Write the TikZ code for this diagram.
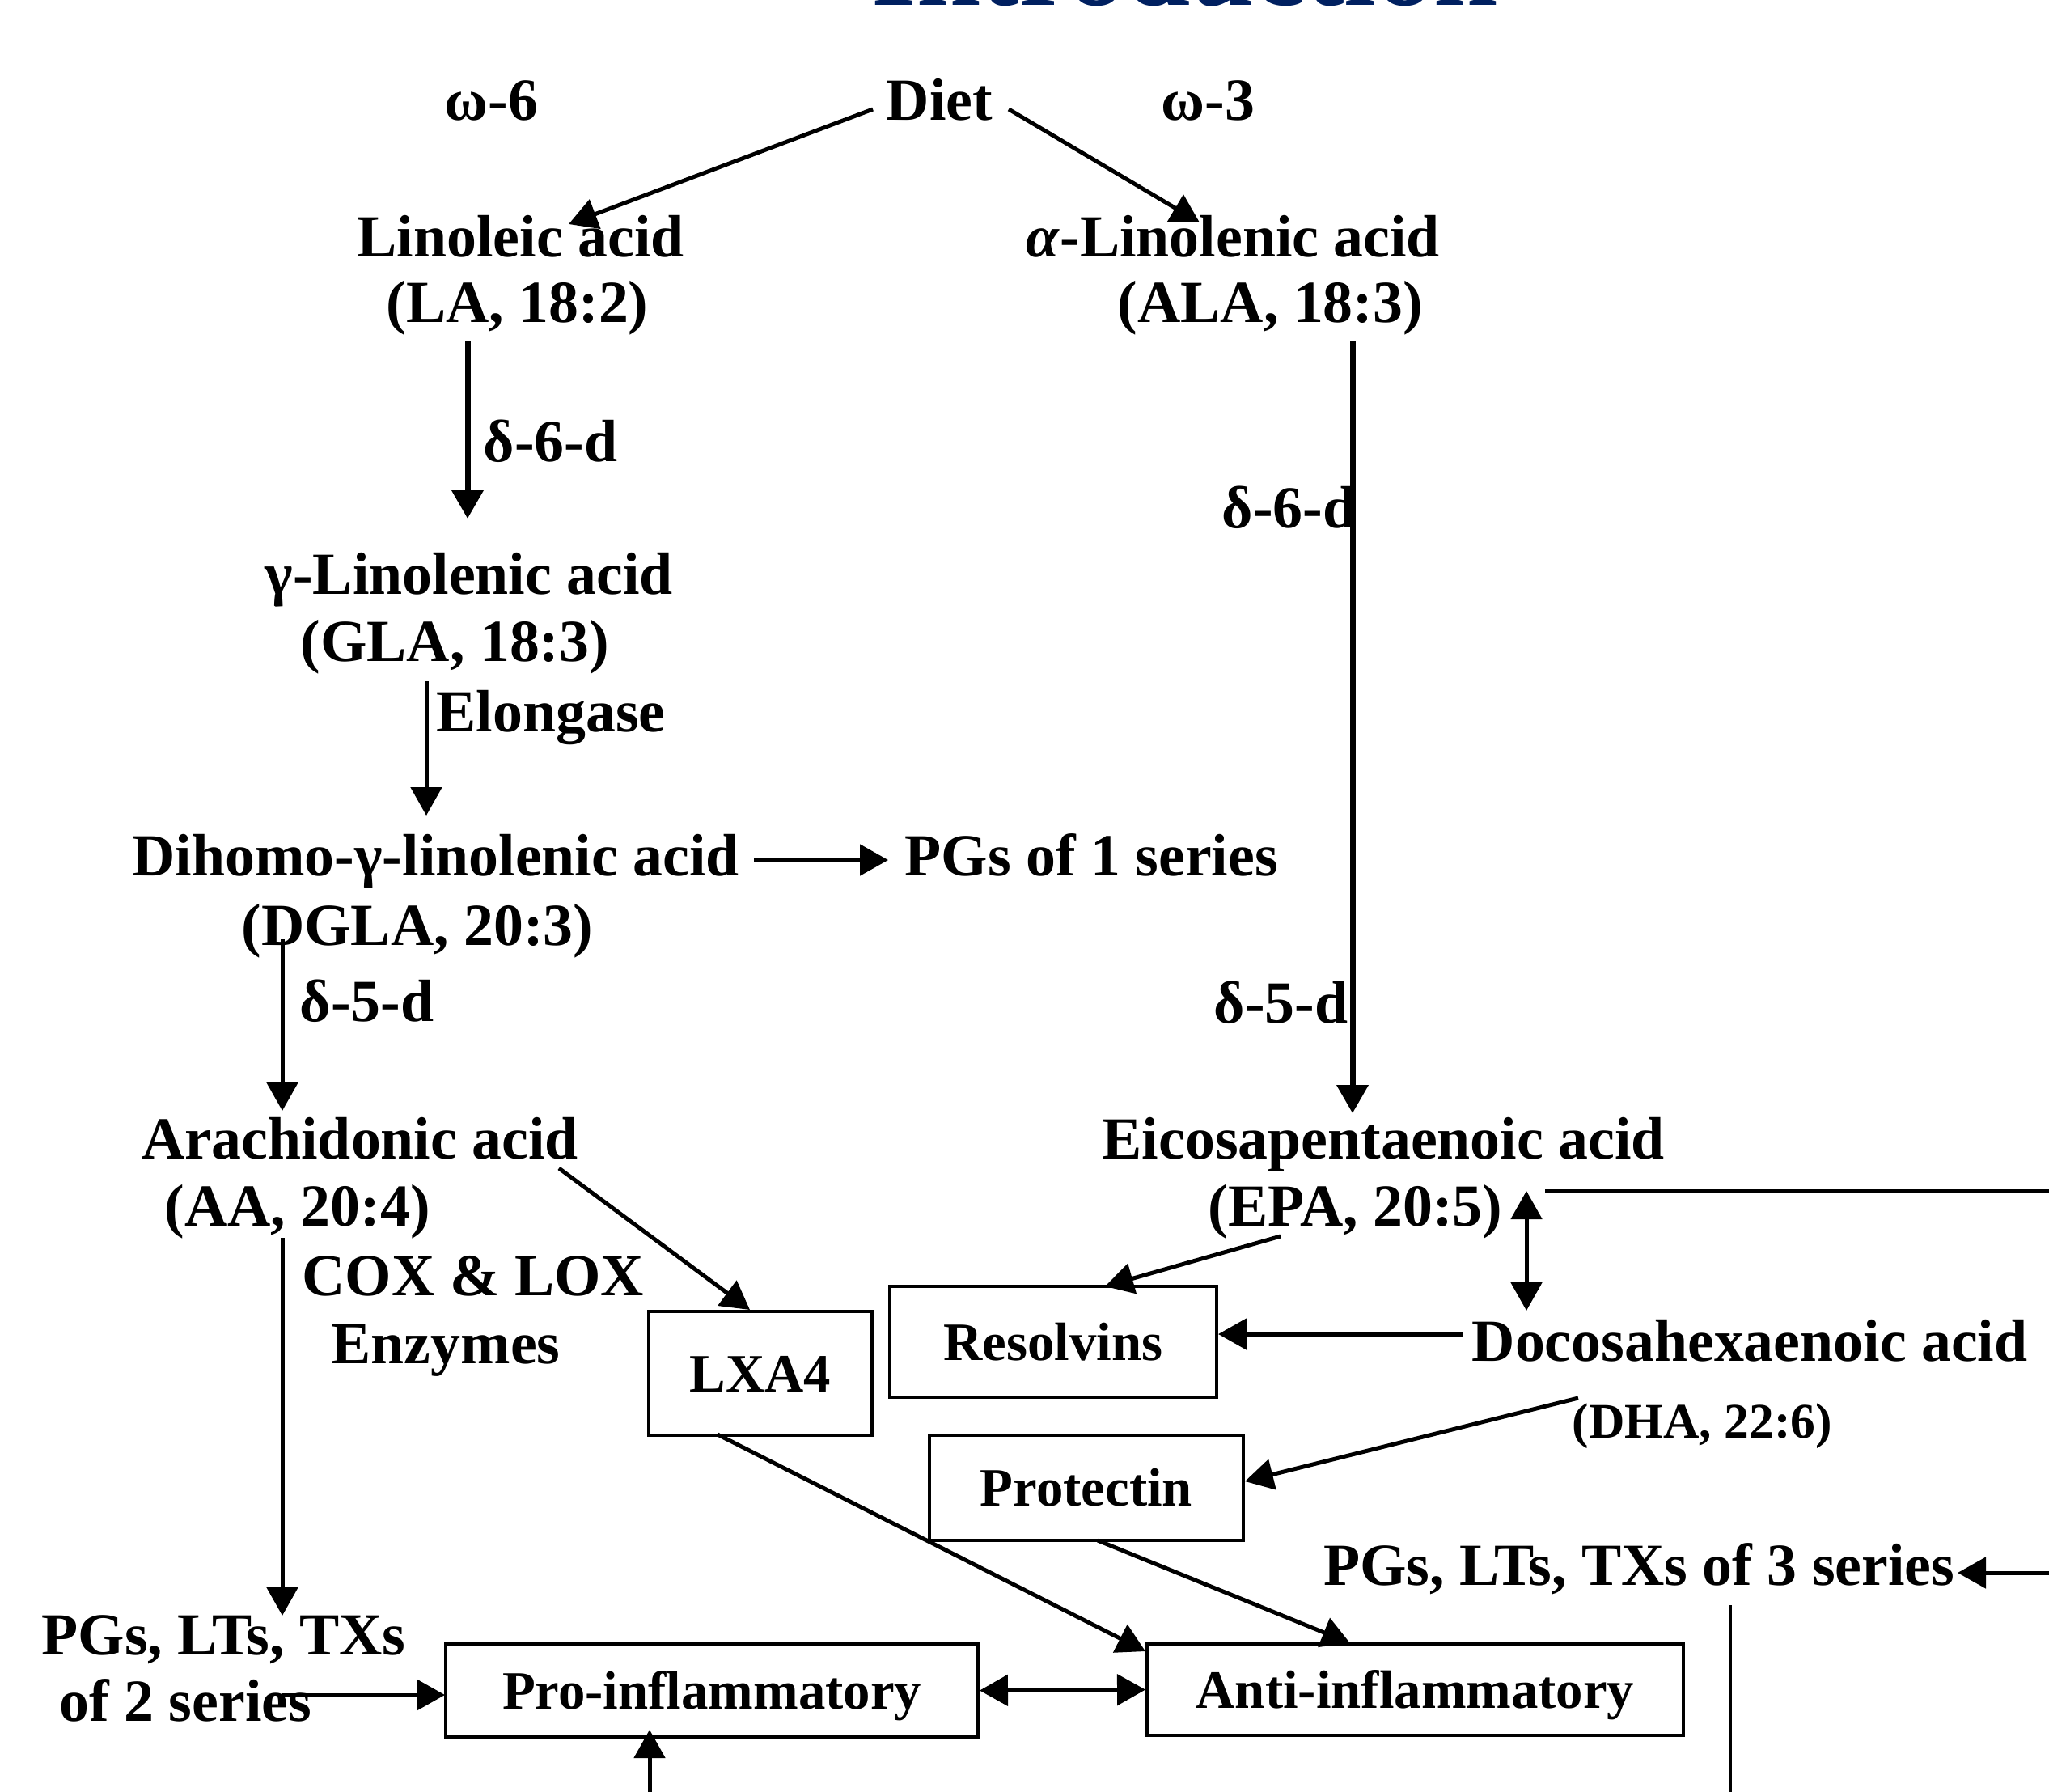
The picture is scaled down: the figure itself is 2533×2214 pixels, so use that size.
\documentclass[tikz,border=0pt]{standalone}
\usepackage{fontspec}
\setmainfont{Liberation Serif}
\usetikzlibrary{arrows.meta}
\definecolor{navy}{RGB}{0,32,96}
\begin{document}
\begin{tikzpicture}[x=0.1mm,y=-0.1mm,
  txt/.style={inner sep=0pt, anchor=base west, font=\fontsize{21}{24}\selectfont\bfseries},
  boxn/.style={draw, line width=0.4mm, inner sep=0pt, font=\fontsize{19}{22}\selectfont\bfseries, text height=13pt, text depth=0pt},
  arr/.style={line width=0.5mm, -{Triangle[length=3.5mm,width=3.8mm]}},
  harr/.style={line width=0.7mm, -{Triangle[length=3.5mm,width=3.8mm]}},
  darr/.style={line width=0.5mm, {Triangle[length=3.5mm,width=3.8mm]}-{Triangle[length=3.5mm,width=3.8mm]}},
  ln/.style={line width=0.45mm}]
\useasboundingbox (0,0) rectangle (2533,2214);

% title (cut off at top)
\node[inner sep=0pt, anchor=base west, font=\fontsize{40.6}{44}\selectfont\bfseries, text=navy] (title) at (1077,6) {Introduction};

% text nodes
\node[txt] (w6) at (549,148) {ω-6};
\node[txt] (diet) at (1095,148) {Diet};
\node[txt] (w3) at (1435,148) {ω-3};
\node[txt] (la1) at (441,317) {Linoleic acid};
\node[txt] (la2) at (477,398) {(LA, 18:2)};
\node[txt] (ala1) at (1268,317) {\textit{α}-Linolenic acid};
\node[txt] (ala2) at (1381,398) {(ALA, 18:3)};
\node[txt] (d6a) at (597,570) {δ-6-d};
\node[txt] (d6b) at (1510,652) {δ-6-d};
\node[txt] (gla1) at (327,734) {γ-Linolenic acid};
\node[txt] (gla2) at (371,817) {(GLA, 18:3)};
\node[txt] (elong) at (539,904) {Elongase};
\node[txt] (dgla1) at (163,1082) {Dihomo-γ-linolenic acid};
\node[txt] (dgla2) at (298,1168) {(DGLA, 20:3)};
\node[txt] (pg1) at (1118,1082) {PGs of 1 series};
\node[txt] (d5a) at (370,1262) {δ-5-d};
\node[txt] (d5b) at (1500,1264) {δ-5-d};
\node[txt] (aa1) at (175,1432) {Arachidonic acid};
\node[txt] (aa2) at (203,1515) {(AA, 20:4)};
\node[txt] (epa1) at (1362,1432) {Eicosapentaenoic acid};
\node[txt] (epa2) at (1493,1515) {(EPA, 20:5)};
\node[txt] (cox1) at (373,1601) {COX \& LOX};
\node[txt] (cox2) at (409,1685) {Enzymes};
\node[txt] (dha1) at (1819,1682) {Docosahexaenoic acid};
\node[txt, font=\fontsize{17.5}{20}\selectfont\bfseries] (dha2) at (1943,1777) {(DHA, 22:6)};
\node[txt, anchor=base east] (pg3) at (2417,1959) {PGs, LTs, TXs of 3 series};
\node[txt] (pg2a) at (51,2045) {PGs, LTs, TXs};
\node[txt] (pg2b) at (73,2127) {of 2 series};

% boxes
\node[boxn, minimum width=27.6mm, minimum height=15.3mm] (lxa) at (940,1697.5) {LXA4};
\node[boxn, minimum width=40.4mm, minimum height=13.7mm] (res) at (1302,1658.5) {Resolvins};
\node[boxn, minimum width=38.8mm, minimum height=13mm] (prot) at (1343,1839) {Protectin};
\node[boxn, minimum width=65.8mm, minimum height=11.5mm] (pro) at (880,2089.5) {Pro-inflammatory};
\node[boxn, minimum width=66.3mm, minimum height=11.3mm] (anti) at (1749.5,2088.5) {Anti-inflammatory};

% connector end points
\coordinate (dietL) at (1079,135);
\coordinate (dietR) at (1247,135);
\coordinate (laTop) at (703,277);
\coordinate (alaTop) at (1483,275);
\coordinate (laBot) at (578,422);
\coordinate (glaTop) at (578,641);
\coordinate (alaBot) at (1672,422);
\coordinate (epaTop) at (1672,1376);
\coordinate (glaBot) at (527,842);
\coordinate (dglaTop) at (527,1008);
\coordinate (dglaR) at (932,1063);
\coordinate (pg1L) at (1098,1063);
\coordinate (dglaBot) at (349,1161);
\coordinate (aaTop) at (349,1373);
\coordinate (aaBot) at (349,1530);
\coordinate (pg2Top) at (349,1997);
\coordinate (aaR) at (691,1444);
\coordinate (lxaTop) at (927,1619);
\coordinate (epaBot) at (1583,1528);
\coordinate (resTop) at (1366,1590);
\coordinate (epaR) at (1887,1472);
\coordinate (dhaTop) at (1887,1620);
\coordinate (epaLine) at (1910,1472);
\coordinate (edgeA) at (2540,1472);
\coordinate (dhaL) at (1808,1649);
\coordinate (resR) at (1506,1649);
\coordinate (dhaP) at (1951,1728);
\coordinate (protR) at (1539,1831);
\coordinate (lxaBot) at (887,1773);
\coordinate (antiTL) at (1416,2041);
\coordinate (protBot) at (1357,1904);
\coordinate (antiTop) at (1669,2031);
\coordinate (pg2R) at (348,2095);
\coordinate (proL) at (550,2095);
\coordinate (edgeB) at (803,2220);
\coordinate (proBot) at (803,2138);
\coordinate (edgeC) at (2540,1944);
\coordinate (pg3R) at (2420,1944);
\coordinate (vTop) at (2139,1984);
\coordinate (edgeD) at (2139,2220);

% connectors
\draw[arr] (dietL) -- (laTop);
\draw[arr] (dietR) -- (alaTop);
\draw[harr] (laBot) -- (glaTop);
\draw[harr] (alaBot) -- (epaTop);
\draw[arr] (glaBot) -- (dglaTop);
\draw[arr] (dglaR) -- (pg1L);
\draw[arr] (dglaBot) -- (aaTop);
\draw[arr] (aaBot) -- (pg2Top);
\draw[arr] (aaR) -- (lxaTop);
\draw[arr] (epaBot) -- (resTop);
\draw[darr] (epaR) -- (dhaTop);
\draw[ln] (epaLine) -- (edgeA);
\draw[arr] (dhaL) -- (resR);
\draw[arr] (dhaP) -- (protR);
\draw[arr] (lxaBot) -- (antiTL);
\draw[arr] (protBot) -- (antiTop);
\draw[darr] (pro.east) -- (anti.west);
\draw[arr] (pg2R) -- (proL);
\draw[arr] (edgeB) -- (proBot);
\draw[arr] (edgeC) -- (pg3R);
\draw[ln] (vTop) -- (edgeD);
\end{tikzpicture}
\end{document}
